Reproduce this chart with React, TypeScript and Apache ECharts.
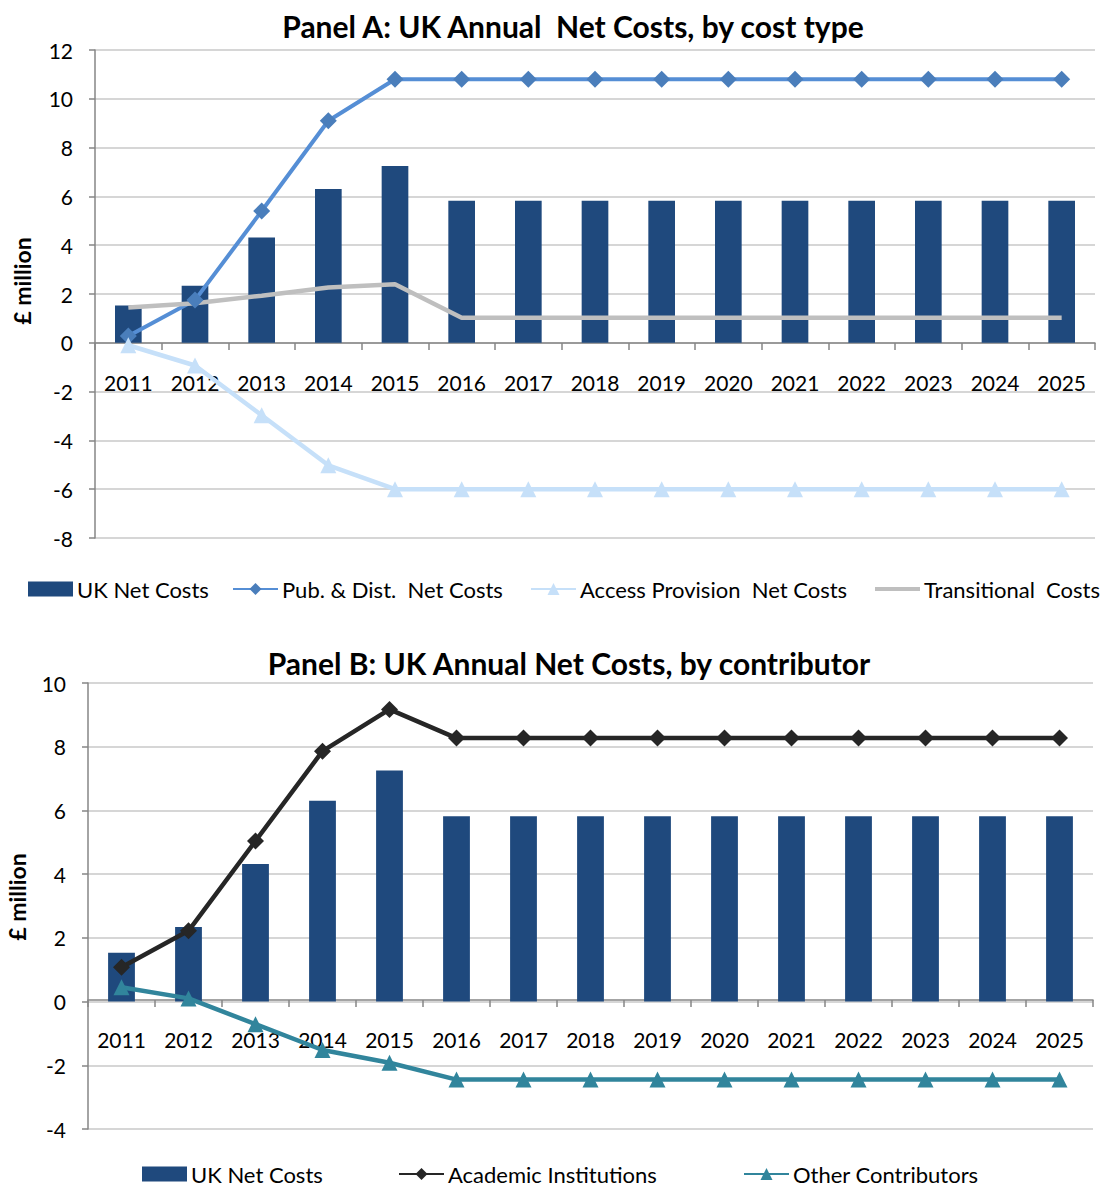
import React, { useEffect, useRef } from "react";
import * as echarts from "echarts";

const years = ["2011", "2012", "2013", "2014", "2015", "2016", "2017", "2018", "2019", "2020", "2021", "2022", "2023", "2024", "2025"];

// Panel A
const ukNetCosts = [1.53, 2.34, 4.32, 6.3, 7.25, 5.82, 5.82, 5.82, 5.82, 5.82, 5.82, 5.82, 5.82, 5.82, 5.82];
const pubDistNetCosts = [0.28, 1.75, 5.4, 9.1, 10.8, 10.8, 10.8, 10.8, 10.8, 10.8, 10.8, 10.8, 10.8, 10.8, 10.8];
const accessProvisionNetCosts = [-0.1, -0.93, -2.97, -5.02, -6.0, -6.0, -6.0, -6.0, -6.0, -6.0, -6.0, -6.0, -6.0, -6.0, -6.0];
const transitionalCosts = [1.45, 1.62, 1.93, 2.27, 2.4, 1.03, 1.03, 1.03, 1.03, 1.03, 1.03, 1.03, 1.03, 1.03, 1.03];

// Panel B
const academicInstitutions = [1.08, 2.22, 5.04, 7.86, 9.17, 8.27, 8.27, 8.27, 8.27, 8.27, 8.27, 8.27, 8.27, 8.27, 8.27];
const otherContributors = [0.45, 0.1, -0.71, -1.52, -1.92, -2.45, -2.45, -2.45, -2.45, -2.45, -2.45, -2.45, -2.45, -2.45, -2.45];

const titleA = "Panel A: UK Annual  Net Costs, by cost type";
const titleB = "Panel B: UK Annual Net Costs, by contributor";
const yName = "£ million";

const FONT = "Lato";
const BAR = "#1F497D";
const GRID = "#C8C8C8";
const AXIS = "#868686";
const LINE_ONLY_ICON = "path://M0,0 L0.01,0 L0.01,0.01 Z M0,5.5 L45,5.5 L45,9.5 L0,9.5 Z M44.99,15 L45,15 L45,14.99 Z";

export default function App() {
  const ref = useRef<HTMLDivElement>(null);
  useEffect(() => {
    document.body.style.margin = "0";
    const chart = echarts.init(ref.current!, undefined, { renderer: "svg" });

    const xAxisBase = (gridIndex: number, offset: number) => ({
      type: "category",
      gridIndex,
      position: "bottom",
      offset,
      data: years,
      boundaryGap: true,
      axisLine: { show: true, onZero: false, lineStyle: { color: AXIS, width: 1.5 } },
      axisTick: { show: true, interval: 0, length: 7, lineStyle: { color: AXIS, width: 1.5 } },
      axisLabel: { interval: 0, margin: 29, color: "#000", fontFamily: FONT, fontSize: 21 },
      splitLine: { show: false },
    });
    const yAxisBase = (gridIndex: number, min: number, max: number) => ({
      type: "value",
      gridIndex,
      min,
      max,
      interval: 2,
      axisLine: { show: true, lineStyle: { color: AXIS, width: 1.5 } },
      axisTick: { show: true, length: 6, lineStyle: { color: AXIS, width: 1.5 } },
      axisLabel: { margin: 22, color: "#000", fontFamily: FONT, fontSize: 21 },
      splitLine: { show: true, lineStyle: { color: GRID, width: 1.5 } },
    });

    const legendItem = (name: string, left: number, top: number, icon?: string) => ({
      data: icon ? [{ name, icon }] : [name],
      left,
      top,
      itemWidth: 45,
      itemHeight: 15,
      itemGap: 4,
      padding: 0,
      selectedMode: false,
      textStyle: { color: "#000", fontFamily: FONT, fontSize: 22, padding: [0, 0, 0, -1] },
    });

    chart.setOption({
      animation: false,
      backgroundColor: "#fff",
      textStyle: { fontFamily: FONT },
      title: [
        { text: titleA, left: 568, top: 6, textAlign: "center", textStyle: { fontFamily: FONT, fontSize: 30, fontWeight: "bold", color: "#000" } },
        { text: titleB, left: 564, top: 643, textAlign: "center", textStyle: { fontFamily: FONT, fontSize: 30, fontWeight: "bold", color: "#000" } },
      ],
      graphic: [
        { type: "text", x: 22, y: 281, rotation: Math.PI / 2, style: { text: yName, fontFamily: FONT, fontSize: 23, fontWeight: "bold", fill: "#000", align: "center", verticalAlign: "middle" } },
        { type: "text", x: 17, y: 897, rotation: Math.PI / 2, style: { text: yName, fontFamily: FONT, fontSize: 23, fontWeight: "bold", fill: "#000", align: "center", verticalAlign: "middle" } },
      ],
      grid: [
        { left: 95, top: 50, width: 1000, height: 488 },
        { left: 88, top: 683, width: 1005, height: 446 },
      ],
      xAxis: [xAxisBase(0, -195), xAxisBase(1, -129)],
      yAxis: [yAxisBase(0, -8, 12), yAxisBase(1, -4, 10)],
      legend: [
        legendItem("UK Net Costs", 28, 578, "rect"),
        legendItem("Pub. & Dist.  Net Costs", 232, 578),
        legendItem("Access Provision  Net Costs", 530, 578),
        legendItem("Transitional  Costs", 875, 578, LINE_ONLY_ICON),
        legendItem("UK Net Costs", 142, 1163, "rect"),
        legendItem("Academic Institutions", 398, 1163),
        legendItem("Other Contributors", 743, 1163),
      ],
      series: [
        { name: "UK Net Costs", type: "bar", xAxisIndex: 0, yAxisIndex: 0, data: ukNetCosts, barWidth: "40%", itemStyle: { color: BAR } },
        {
          name: "Pub. & Dist.  Net Costs", type: "line", xAxisIndex: 0, yAxisIndex: 0, data: pubDistNetCosts,
          symbol: "diamond", symbolSize: 17, lineStyle: { color: "#558ED5", width: 4 }, itemStyle: { color: "#4A7EBB" },
        },
        {
          name: "Access Provision  Net Costs", type: "line", xAxisIndex: 0, yAxisIndex: 0, data: accessProvisionNetCosts,
          symbol: "triangle", symbolSize: 16, lineStyle: { color: "#C6E0F9", width: 4.5 }, itemStyle: { color: "#C6E0F9" },
        },
        {
          name: "Transitional  Costs", type: "line", xAxisIndex: 0, yAxisIndex: 0, data: transitionalCosts,
          symbol: "none", lineStyle: { color: "#BFBFBF", width: 4.5 }, itemStyle: { color: "#BFBFBF" },
        },
        { name: "UK Net Costs", type: "bar", xAxisIndex: 1, yAxisIndex: 1, data: ukNetCosts, barWidth: "40%", itemStyle: { color: BAR } },
        {
          name: "Academic Institutions", type: "line", xAxisIndex: 1, yAxisIndex: 1, data: academicInstitutions,
          symbol: "diamond", symbolSize: 17, lineStyle: { color: "#262626", width: 4.5 }, itemStyle: { color: "#262626" },
        },
        {
          name: "Other Contributors", type: "line", xAxisIndex: 1, yAxisIndex: 1, data: otherContributors,
          symbol: "triangle", symbolSize: 16, lineStyle: { color: "#31859C", width: 4.5 }, itemStyle: { color: "#31859C" },
        },
      ],
    });
    return () => chart.dispose();
  }, []);
  return <div ref={ref} style={{ width: 1111, height: 1189 }} />;
}
